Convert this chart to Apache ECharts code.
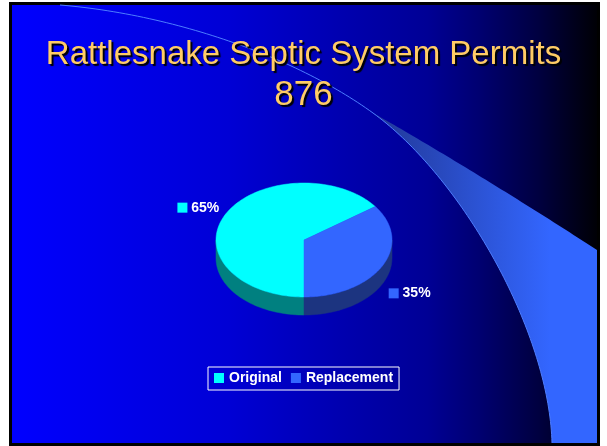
<!DOCTYPE html>
<html>
<head>
<meta charset="utf-8">
<script src="https://cdn.jsdelivr.net/npm/echarts@6/dist/echarts.min.js"></script>
<style>
html,body{margin:0;padding:0;background:#fff;}
#chart{width:607px;height:446px;}
</style>
</head>
<body>
<div id="chart"></div>
<script>
// ---- data ----
const categories = ['Original', 'Replacement'];
const values = [65, 35];
const titleLine = 'Rattlesnake Septic System Permits';
const totalLine = '876';

// ---- styles / layout ----
const topColors = ['#00FFFF', '#3366FF'];
const sideColors = ['#008080', '#1C3480'];
const PIE = { cx: 304, cy: 240, rx: 88, ry: 57, depth: 18, start: Math.PI / 2 };
const FONT = '"Liberation Sans", Arial, sans-serif';

function cubic(p0, p1, p2, p3, n) {
  const pts = [];
  for (let i = 0; i <= n; i++) {
    const t = i / n, u = 1 - t;
    const a = u * u * u, b = 3 * u * u * t, c = 3 * u * t * t, d = t * t * t;
    pts.push([a * p0[0] + b * p1[0] + c * p2[0] + d * p3[0], a * p0[1] + b * p1[1] + c * p2[1] + d * p3[1]]);
  }
  return pts;
}
const curveA = cubic([60, 5], [180, 15], [300, 60], [373, 113], 60);
const curveB = cubic([373, 113], [460.6, 176.6], [549, 330], [552, 443], 80);
const upperEdge = cubic([597, 250], [520, 200], [430, 145], [373, 113], 60);
const bandPts = curveB.concat([[597, 443]], upperEdge);

function sliceRender(idx) {
  return function (params, api) {
    const total = values.reduce((a, b) => a + b, 0);
    let start = PIE.start;
    for (let j = 0; j < idx; j++) start += values[j] / total * Math.PI * 2;
    const v = api.value(0);
    const end = start + v / total * Math.PI * 2;
    const { cx, cy, rx, ry, depth } = PIE;
    const children = [];
    [[0, Math.PI], [2 * Math.PI, 3 * Math.PI]].forEach(function (rg) {
      const a = Math.max(start, rg[0]), b = Math.min(end, rg[1]);
      if (b > a) {
        const top = [], bot = [];
        const n = 48;
        for (let i = 0; i <= n; i++) {
          const t = a + (b - a) * i / n;
          top.push([cx + rx * Math.cos(t), cy + ry * Math.sin(t)]);
          bot.push([cx + rx * Math.cos(t), cy + ry * Math.sin(t) + depth]);
        }
        children.push({ type: 'polygon', shape: { points: top.concat(bot.reverse()) },
          style: { fill: sideColors[idx], stroke: sideColors[idx], lineWidth: 0.5 } });
      }
    });
    const pts = [[cx, cy]];
    const n = 120;
    for (let i = 0; i <= n; i++) {
      const t = start + (end - start) * i / n;
      pts.push([cx + rx * Math.cos(t), cy + ry * Math.sin(t)]);
    }
    children.push({ type: 'polygon', shape: { points: pts },
      style: { fill: topColors[idx], stroke: topColors[idx], lineWidth: 0.5 } });
    const mid = (start + end) / 2;
    const c = Math.cos(mid), s = Math.sin(mid);
    const lx = cx + rx * 1.08 * c;
    const ly = cy + ry * 1.25 * s + (s > 0 ? depth + 3 : 0);
    children.push({
      type: 'text', x: lx, y: ly,
      style: {
        text: '{sq|} ' + Math.round(v / total * 100) + '%',
        fill: '#fff', font: 'bold 14px ' + FONT,
        align: c < 0 ? 'right' : 'left', verticalAlign: 'middle',
        rich: { sq: { width: 10, height: 10, backgroundColor: topColors[idx] } }
      }
    });
    return { type: 'group', children: children };
  };
}

const chart = echarts.init(document.getElementById('chart'), null, { renderer: 'canvas' });
const titleStyle = {
  color: '#FFCC66', fontWeight: 'normal', fontFamily: FONT,
  textShadowColor: '#000', textShadowOffsetX: 2, textShadowOffsetY: 2, textShadowBlur: 1
};
chart.setOption({
  animation: false,
  backgroundColor: '#fff',
  title: [
    { text: titleLine, left: 'center', top: 38, padding: 0, textStyle: Object.assign({ fontSize: 33 }, titleStyle) },
    { text: totalLine, left: 'center', top: 78, padding: 0, textStyle: Object.assign({ fontSize: 35 }, titleStyle) }
  ],
  graphic: [
    { type: 'rect', z: -10, shape: { x: 9, y: 2, width: 591, height: 444 }, style: { fill: '#000' } },
    { type: 'rect', z: -9, shape: { x: 12, y: 5, width: 585, height: 438 },
      style: { fill: { type: 'linear', x: 0, y: 0, x2: 1, y2: 0, colorStops: [
        { offset: 0, color: '#0000FF' }, { offset: 0.37, color: '#0000D5' },
        { offset: 0.56, color: '#0000B0' }, { offset: 0.71, color: '#000095' },
        { offset: 0.8, color: '#000070' }, { offset: 0.9, color: '#000040' },
        { offset: 1, color: '#000005' }] } } },
    { type: 'polygon', z: -8, shape: { points: bandPts },
      style: { fill: { type: 'linear', x: 380, y: 0, x2: 550, y2: 0, global: true, colorStops: [
        { offset: 0, color: '#22399A' }, { offset: 1, color: '#3366FF' }] } } },
    { type: 'polyline', z: -7, shape: { points: curveA.concat(curveB) },
      style: { stroke: '#4D7DFF', lineWidth: 1, fill: null } }
  ],
  legend: {
    data: categories, left: 208, top: 367,
    padding: [4, 6, 5, 6], borderColor: '#fff', borderWidth: 1,
    itemWidth: 10, itemHeight: 10, itemGap: 9, icon: 'rect',
    textStyle: { color: '#fff', fontWeight: 'bold', fontSize: 14, fontFamily: FONT }
  },
  series: categories.map(function (name, i) {
    return {
      type: 'custom', name: name, coordinateSystem: 'none',
      itemStyle: { color: topColors[i] },
      data: [[values[i]]],
      renderItem: sliceRender(i)
    };
  })
});
</script>
</body>
</html>
